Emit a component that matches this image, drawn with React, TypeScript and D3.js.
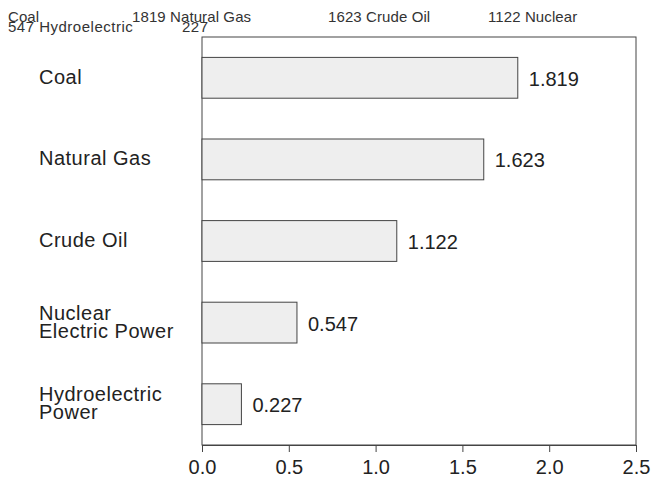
import { useEffect, useRef } from "react";
import * as d3 from "d3";

const categories = ["Coal", "Natural Gas", "Crude Oil", "Nuclear Electric Power", "Hydroelectric Power"];
const categoryLines = [["Coal"], ["Natural Gas"], ["Crude Oil"], ["Nuclear", "Electric Power"], ["Hydroelectric", "Power"]];
const values = [1.819, 1.623, 1.122, 0.547, 0.227];
const xTicks = [0, 0.5, 1.0, 1.5, 2.0, 2.5];

// stray header text, as laid out in the original
const headerRow1 = [
  { text: "Coal", col: 0 },
  { text: "1819 Natural Gas", col: 1 },
  { text: "1623 Crude Oil", col: 2 },
  { text: "1122 Nuclear", col: 3 },
];
const headerRow2 = [
  { text: "547 Hydroelectric", col: 0 },
  { text: "227", col: 1 },
];

export default function App() {
  const ref = useRef<SVGSVGElement>(null);

  useEffect(() => {
    if (!ref.current) return;
    const svg = d3.select(ref.current);
    svg.selectAll("*").remove();

    const W = 652;
    const H = 484;
    const margin = { top: 37, right: 16, bottom: 39, left: 202 };
    const width = W - margin.left - margin.right;
    const height = H - margin.top - margin.bottom;
    const font = "'Liberation Sans', Arial, sans-serif";

    // header text
    const colX = [8, 132, 328, 488];
    const colX2 = [8, 182];
    const header = svg.append("g").style("font-family", font).style("font-size", "15px").attr("fill", "#333");
    header
      .selectAll(".h1")
      .data(headerRow1)
      .enter()
      .append("text")
      .attr("x", (d) => colX[d.col])
      .attr("y", 22)
      .style("letter-spacing", "0.1px")
      .text((d) => d.text);
    header
      .selectAll(".h2")
      .data(headerRow2)
      .enter()
      .append("text")
      .attr("x", (d) => colX2[d.col])
      .attr("y", 32)
      .style("letter-spacing", "0.5px")
      .text((d) => d.text);

    const g = svg.append("g").attr("transform", `translate(${margin.left},${margin.top})`);

    const x = d3.scaleLinear().domain([0, 2.5]).range([0, width]);
    const y = d3.scaleBand().domain(categories).range([0, height]).paddingInner(0.5).paddingOuter(0.25);

    // frame
    g.append("rect")
      .attr("x", 0)
      .attr("y", 0)
      .attr("width", width)
      .attr("height", height)
      .attr("fill", "none")
      .attr("stroke", "#444")
      .attr("stroke-width", 1);

    // x axis
    g.append("g")
      .attr("transform", `translate(0,${height})`)
      .call(d3.axisBottom(x).tickValues(xTicks).tickFormat(d3.format(".1f")).tickSize(7).tickPadding(8))
      .call((a) => a.select(".domain").attr("stroke", "#444"))
      .call((a) => a.selectAll(".tick line").attr("stroke", "#444"))
      .call((a) =>
        a.selectAll(".tick text").attr("fill", "#222").style("font-size", "20px").style("font-family", font)
      );

    // bars
    g.selectAll(".bar")
      .data(values)
      .enter()
      .append("rect")
      .attr("class", "bar")
      .attr("x", x(0))
      .attr("y", (_, i) => y(categories[i]) || 0)
      .attr("width", (d) => x(d) - x(0))
      .attr("height", y.bandwidth())
      .attr("fill", "#eeeeee")
      .attr("stroke", "#444")
      .attr("stroke-width", 1);

    // value labels
    g.selectAll(".val")
      .data(values)
      .enter()
      .append("text")
      .attr("x", (d) => x(d) + 11)
      .attr("y", (_, i) => (y(categories[i]) || 0) + y.bandwidth() / 2)
      .attr("dy", "0.4em")
      .attr("fill", "#222")
      .style("font-size", "20px")
      .style("font-family", font)
      .text((d) => d.toFixed(3));

    // category labels
    const labels = svg
      .append("g")
      .selectAll(".cat")
      .data(categoryLines)
      .enter()
      .append("text")
      .attr("fill", "#222")
      .style("font-size", "20px")
      .style("letter-spacing", "0.5px")
      .style("font-family", font)
      .attr("transform", (_, i) => {
        const cy = margin.top + (y(categories[i]) || 0) + y.bandwidth() / 2;
        return `translate(39,${cy - 1})`;
      });
    labels
      .selectAll("tspan")
      .data((d) => d.map((t, j) => ({ t, j, n: d.length })))
      .enter()
      .append("tspan")
      .attr("x", 0)
      .attr("y", (d) => (d.j - (d.n - 1) / 2) * 18)
      .attr("dy", "0.35em")
      .text((d) => d.t);
  }, []);

  return (
    <svg
      ref={ref}
      width={652}
      height={484}
      style={{ display: "block", position: "absolute", left: 0, top: 0, overflow: "visible" }}
    />
  );
}
